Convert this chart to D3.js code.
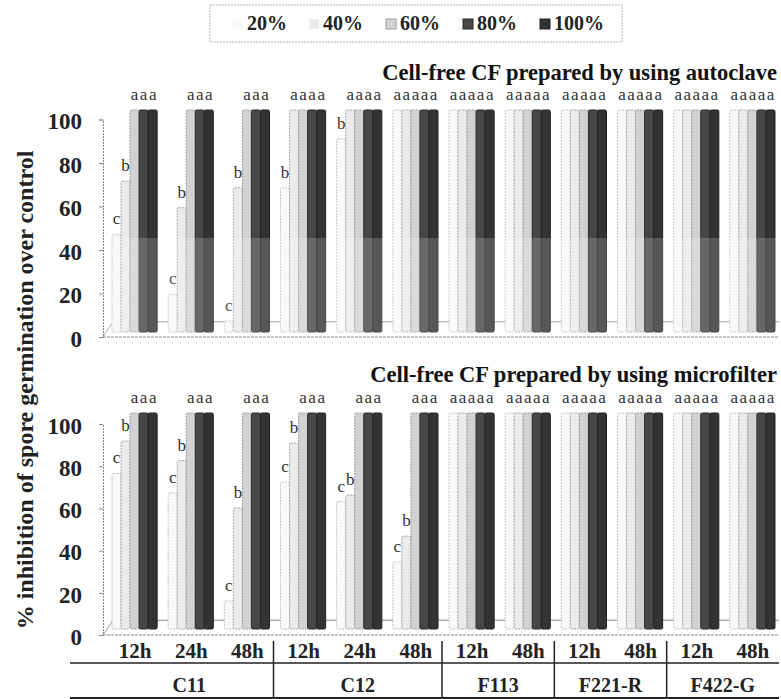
<!DOCTYPE html>
<html>
<head>
<meta charset="utf-8">
<script src="https://cdn.jsdelivr.net/npm/d3@7"></script>
<style>
  body { margin: 0; background: #fff; }
  svg text { font-family: 'Liberation Serif', 'Times New Roman', Times, 'DejaVu Serif', serif; }
</style>
</head>
<body>
<svg width="781" height="699"></svg>
<script>
'use strict';
// concentrations of cell-free culture filtrate
const series = ['20%', '40%', '60%', '80%', '100%'];
const times = ['12h', '24h', '48h', '12h', '24h', '48h', '12h', '48h', '12h', '48h', '12h', '48h'];
const isolates = ['C11', 'C12', 'F113', 'F221-R', 'F422-G'];
const isolateSpan = [3, 3, 2, 2, 2];

// % inhibition, one row per isolate/time, one value per concentration
const autoclave = [
  [44, 68, 100, 100, 100],
  [17, 56, 100, 100, 100],
  [5, 65, 100, 100, 100],
  [65, 100, 100, 100, 100],
  [87, 100, 100, 100, 100],
  [100, 100, 100, 100, 100],
  [100, 100, 100, 100, 100],
  [100, 100, 100, 100, 100],
  [100, 100, 100, 100, 100],
  [100, 100, 100, 100, 100],
  [100, 100, 100, 100, 100],
  [100, 100, 100, 100, 100]
];
const autoclaveLetters = [
  'cbaaa', 'cbaaa', 'cbaaa', 'baaaa', 'baaaa', 'aaaaa',
  'aaaaa', 'aaaaa', 'aaaaa', 'aaaaa', 'aaaaa', 'aaaaa'
];
const microfilter = [
  [72, 87, 100, 100, 100],
  [63, 78, 100, 100, 100],
  [13, 56, 100, 100, 100],
  [68, 86, 100, 100, 100],
  [59, 62, 100, 100, 100],
  [31, 43, 100, 100, 100],
  [100, 100, 100, 100, 100],
  [100, 100, 100, 100, 100],
  [100, 100, 100, 100, 100],
  [100, 100, 100, 100, 100],
  [100, 100, 100, 100, 100],
  [100, 100, 100, 100, 100]
];
const microfilterLetters = [
  'cbaaa', 'cbaaa', 'cbaaa', 'cbaaa', 'cbaaa', 'cbaaa',
  'aaaaa', 'aaaaa', 'aaaaa', 'aaaaa', 'aaaaa', 'aaaaa'
];
const yTicks = [0, 20, 40, 60, 80, 100];

const FONT = "'Liberation Serif', 'Times New Roman', Times, 'DejaVu Serif', serif";
const FILLS = ['#f8f8f8', '#ebebeb', '#d2d2d2', '#474747', '#333333'];
const STROKES = ['#c4c4c4', '#a8a8a8', '#9a9a9a', '#2a2a2a', '#222222'];

const svg = d3.select('svg');

const x0 = d3.scaleBand().domain(d3.range(times.length)).range([105, 779]);
const x1 = d3.scaleBand().domain(series).range([7, x0.bandwidth() - 4]);

// legend
const legend = svg.append('g');
legend.append('rect')
  .attr('x', 210).attr('y', 5).attr('width', 412).attr('height', 37)
  .attr('fill', 'none').attr('stroke', '#b5b5b5').attr('stroke-dasharray', '2,1');
const legendX = [233, 309, 386, 463, 540];
series.forEach((s, i) => {
  const g = legend.append('g').attr('transform', `translate(${legendX[i]},0)`);
  g.append('rect').attr('x', 0).attr('y', 19).attr('width', 10).attr('height', 10)
    .attr('fill', FILLS[i]).attr('stroke', i < 2 ? 'none' : STROKES[i]);
  g.append('text').attr('x', 14).attr('y', 30)
    .attr('font-family', FONT)
    .attr('font-size', 20).attr('font-weight', 'bold').attr('fill', '#222')
    .text(s);
});

function drawPanel(values, letters, axisRange, barRange, title, titleY, shade) {
  const y = d3.scaleLinear().domain([0, 100]).range(axisRange);
  const yb = d3.scaleLinear().domain([0, 100]).range(barRange);
  const g = svg.append('g');

  g.append('text')
    .attr('x', 777).attr('y', titleY).attr('text-anchor', 'end')
    .attr('font-family', FONT)
    .attr('font-size', 22.5).attr('font-weight', 'bold').attr('fill', '#111')
    .text(title);

  // back floor line
  g.append('line')
    .attr('x1', 103).attr('y1', y(0)).attr('x2', 113).attr('y2', y(7))
    .attr('stroke', '#888').attr('stroke-width', 0.8);
  g.append('line')
    .attr('x1', 113).attr('y1', y(7)).attr('x2', 779).attr('y2', y(7))
    .attr('stroke', '#8a8a8a').attr('stroke-width', 1);

  // y axis
  const ax = g.append('g')
    .attr('transform', 'translate(103,0)')
    .call(d3.axisLeft(y).tickValues(yTicks).tickSize(4).tickPadding(17));
  ax.attr('font-family', FONT);
  ax.select('.domain').attr('stroke', '#888').attr('stroke-dasharray', '2,1');
  ax.selectAll('.tick line').attr('stroke', '#888');
  ax.selectAll('.tick text')
    .style('font-family', FONT)
    .style('font-size', '23px').style('font-weight', 'bold').attr('fill', '#222')
    .attr('dy', '0.4em');

  // baseline
  g.append('line')
    .attr('x1', 103).attr('y1', y(0)).attr('x2', 779).attr('y2', y(0))
    .attr('stroke', '#8c8c8c').attr('stroke-width', 1.2).attr('stroke-dasharray', '3,1');

  const groups = g.selectAll('g.grp').data(values).join('g')
    .attr('class', 'grp')
    .attr('transform', (d, i) => `translate(${x0(i)},0)`);

  groups.selectAll('rect').data(d => d.map((v, k) => ({ v, k }))).join('rect')
    .attr('x', d => x1(series[d.k]))
    .attr('width', x1.bandwidth())
    .attr('y', d => yb(d.v))
    .attr('height', d => yb(0) - yb(d.v))
    .attr('rx', 1.5)
    .attr('fill', d => FILLS[d.k])
    .attr('stroke', d => STROKES[d.k])
    .attr('stroke-width', 1)
    .attr('stroke-dasharray', d => d.k < 3 ? '2,1' : null);

  // significance letter above every bar
  groups.selectAll('text').data((d, i) => d.map((v, k) => ({ v, k, l: letters[i][k] }))).join('text')
    .attr('x', d => x1(series[d.k]) + x1.bandwidth() / 2)
    .attr('y', d => yb(d.v) - 10)
    .attr('text-anchor', 'middle')
    .attr('font-family', FONT)
    .attr('font-size', 17).attr('fill', '#333')
    .text(d => d.l);

  if (shade) {
    // washed-out band of the scanned original
    g.append('rect')
      .attr('x', 104).attr('y', shade[0]).attr('width', 676).attr('height', shade[1] - shade[0])
      .attr('fill', '#fff').attr('opacity', 0.18);
  }
}

drawPanel(autoclave, autoclaveLetters, [337, 119.5], [332, 110],
  'Cell-free CF prepared by using autoclave', 79.5, [238, 334]);
drawPanel(microfilter, microfilterLetters, [635, 424], [629, 413],
  'Cell-free CF prepared by using microfilter', 381.5, null);

// y axis title
svg.append('text')
  .attr('transform', 'translate(33,390) rotate(-90)')
  .attr('text-anchor', 'middle')
  .attr('font-family', FONT)
  .attr('font-size', 24).attr('font-weight', 'bold').attr('fill', '#222')
  .text('% inhibition of spore germination over control');

// category table under the lower panel
const tbl = svg.append('g');
tbl.selectAll('text.time').data(times).join('text')
  .attr('class', 'time')
  .attr('x', (d, i) => x0(i) + x0.bandwidth() / 2 + 2)
  .attr('y', 658)
  .attr('text-anchor', 'middle')
  .attr('font-family', FONT)
  .attr('font-size', 21).attr('font-weight', 'bold').attr('fill', '#222')
  .text(d => d);

tbl.append('line')
  .attr('x1', 70).attr('x2', 779).attr('y1', 663).attr('y2', 663)
  .attr('stroke', '#222').attr('stroke-width', 1.5);
tbl.append('line')
  .attr('x1', 70).attr('x2', 779).attr('y1', 698).attr('y2', 698)
  .attr('stroke', '#222').attr('stroke-width', 2);

const starts = isolateSpan.map((n, i) => d3.sum(isolateSpan.slice(0, i)));
tbl.selectAll('line.sep').data(starts.slice(1)).join('line')
  .attr('class', 'sep')
  .attr('x1', d => x0(d)).attr('x2', d => x0(d))
  .attr('y1', 641).attr('y2', 698)
  .attr('stroke', '#222').attr('stroke-width', 1.5);

tbl.selectAll('text.iso').data(isolates).join('text')
  .attr('class', 'iso')
  .attr('x', (d, i) => (x0(starts[i]) + x0(starts[i] + isolateSpan[i] - 1) + x0.bandwidth()) / 2)
  .attr('y', 692)
  .attr('text-anchor', 'middle')
  .attr('font-family', FONT)
  .attr('font-size', 20).attr('font-weight', 'bold').attr('fill', '#222')
  .text(d => d);
</script>
</body>
</html>
